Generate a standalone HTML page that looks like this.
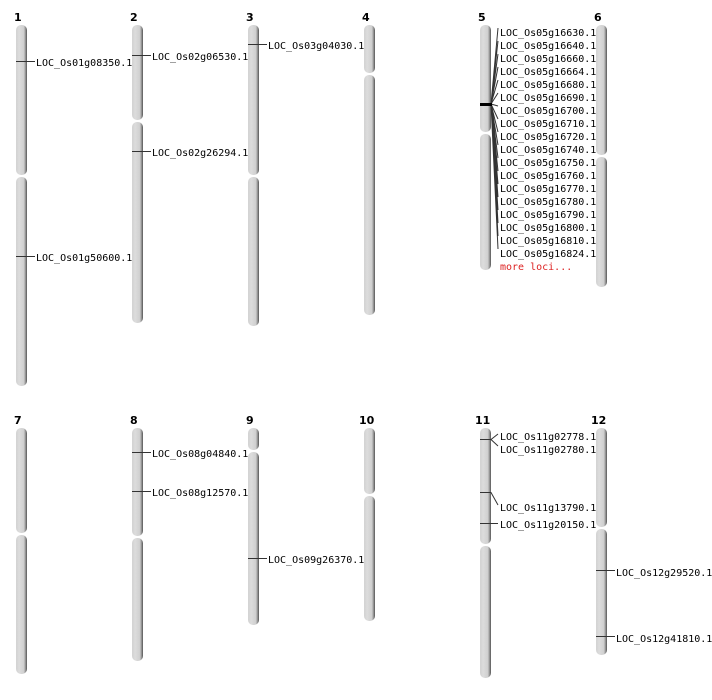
<!DOCTYPE html>
<html><head><meta charset="utf-8"><style>
html,body{margin:0;padding:0;background:#fff;width:712px;height:700px;overflow:hidden}
svg text{font-family:"DejaVu Sans Mono","Liberation Mono",monospace;font-size:10px;fill:#000}
svg text.n{font-family:"DejaVu Sans","Liberation Sans",sans-serif;font-weight:bold;font-size:11px}
</style></head><body>
<svg width="712" height="700" xmlns="http://www.w3.org/2000/svg">
<defs><linearGradient id="g" x1="0" x2="1" y1="0" y2="0">
<stop offset="0" stop-color="#d2d2d2"/><stop offset="0.3" stop-color="#dcdcdc"/><stop offset="0.7" stop-color="#d0d0d0"/><stop offset="0.82" stop-color="#a8a8a8"/><stop offset="1" stop-color="#555"/></linearGradient></defs>
<g transform="translate(1,0)">
<g fill="url(#g)">
<rect x="15" y="25" width="11" height="150" rx="5"/><rect x="15" y="177" width="11" height="209" rx="5"/>
<rect x="131" y="25" width="11" height="95" rx="5"/><rect x="131" y="122" width="11" height="201" rx="5"/>
<rect x="247" y="25" width="11" height="150" rx="5"/><rect x="247" y="177" width="11" height="149" rx="5"/>
<rect x="363" y="25" width="11" height="48" rx="5"/><rect x="363" y="75" width="11" height="240" rx="5"/>
<rect x="479" y="25" width="11" height="107" rx="5"/><rect x="479" y="134" width="11" height="136" rx="5"/>
<rect x="595" y="25" width="11" height="130" rx="5"/><rect x="595" y="157" width="11" height="130" rx="5"/>
<rect x="15" y="428" width="11" height="105" rx="5"/><rect x="15" y="535" width="11" height="139" rx="5"/>
<rect x="131" y="428" width="11" height="108" rx="5"/><rect x="131" y="538" width="11" height="123" rx="5"/>
<rect x="247" y="428" width="11" height="22" rx="5"/><rect x="247" y="452" width="11" height="173" rx="5"/>
<rect x="363" y="428" width="11" height="66" rx="5"/><rect x="363" y="496" width="11" height="125" rx="5"/>
<rect x="479" y="428" width="11" height="116" rx="5"/><rect x="479" y="546" width="11" height="132" rx="5"/>
<rect x="595" y="428" width="11" height="99" rx="5"/><rect x="595" y="529" width="11" height="126" rx="5"/>
</g>
<g>
<text class="n" x="13" y="21">1</text><text class="n" x="129" y="21">2</text><text class="n" x="245" y="21">3</text>
<text class="n" x="361" y="21">4</text><text class="n" x="477" y="21">5</text><text class="n" x="593" y="21">6</text>
<text class="n" x="13" y="424">7</text><text class="n" x="129" y="424">8</text><text class="n" x="245" y="424">9</text>
<text class="n" x="358" y="424">10</text><text class="n" x="474" y="424">11</text><text class="n" x="590" y="424">12</text>
</g>
<g stroke="#333" stroke-width="1" fill="none">
<path d="M15 61.5H34M15 256.5H34M131 55.5H150M131 151.5H150M247 44.5H266"/>
<path d="M131 452.5H150M131 491.5H150M247 558.5H266M595 570.5H614M595 636.5H614"/>
<path d="M479 439.5H490L497 434M490 439.5L497 446M479 492.5H490L497 505M479 523.5H497"/>
<path d="M490 104L497 28M490 104L497 41M490 104L497 54M490 104L497 67M490 104L497 80M490 104L497 93M490 104L497 106M490 104L497 119M490 104L497 132M490 104L497 145M490 104L497 158M490 104L497 171M490 104L497 184M490 104L497 197M490 104L497 210M490 104L497 223M490 104L497 236M490 104L497 249"/>
</g>
<rect x="479" y="103" width="12" height="3" fill="#000"/>
<g transform="translate(-1,1)">
<text x="36" y="65">LOC_Os01g08350.1</text><text x="36" y="260">LOC_Os01g50600.1</text>
<text x="152" y="59">LOC_Os02g06530.1</text><text x="152" y="155">LOC_Os02g26294.1</text>
<text x="268" y="48">LOC_Os03g04030.1</text>
<text x="500" y="35">LOC_Os05g16630.1</text><text x="500" y="48">LOC_Os05g16640.1</text>
<text x="500" y="61">LOC_Os05g16660.1</text><text x="500" y="74">LOC_Os05g16664.1</text>
<text x="500" y="87">LOC_Os05g16680.1</text><text x="500" y="100">LOC_Os05g16690.1</text>
<text x="500" y="113">LOC_Os05g16700.1</text><text x="500" y="126">LOC_Os05g16710.1</text>
<text x="500" y="139">LOC_Os05g16720.1</text><text x="500" y="152">LOC_Os05g16740.1</text>
<text x="500" y="165">LOC_Os05g16750.1</text><text x="500" y="178">LOC_Os05g16760.1</text>
<text x="500" y="191">LOC_Os05g16770.1</text><text x="500" y="204">LOC_Os05g16780.1</text>
<text x="500" y="217">LOC_Os05g16790.1</text><text x="500" y="230">LOC_Os05g16800.1</text>
<text x="500" y="243">LOC_Os05g16810.1</text><text x="500" y="256">LOC_Os05g16824.1</text>
<text x="500" y="269" style="fill:#d22">more loci...</text>
<text x="152" y="456">LOC_Os08g04840.1</text><text x="152" y="495">LOC_Os08g12570.1</text>
<text x="268" y="562">LOC_Os09g26370.1</text>
<text x="500" y="439">LOC_Os11g02778.1</text><text x="500" y="452">LOC_Os11g02780.1</text>
<text x="500" y="510">LOC_Os11g13790.1</text><text x="500" y="527">LOC_Os11g20150.1</text>
<text x="616" y="575">LOC_Os12g29520.1</text><text x="616" y="641">LOC_Os12g41810.1</text>
</g>
</g>
</svg>
</body></html>
